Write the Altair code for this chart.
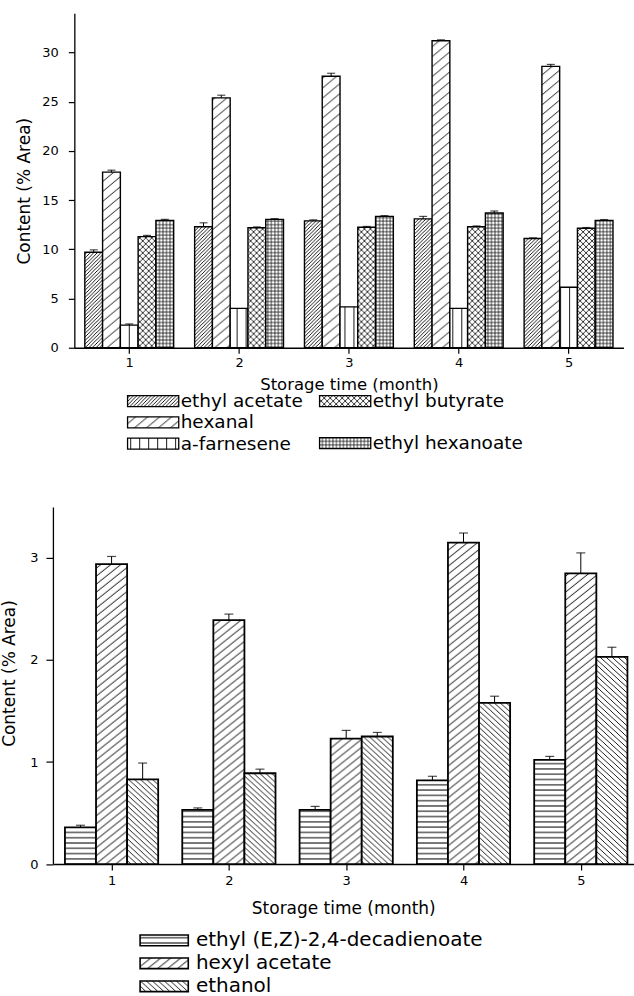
import altair as alt
import pandas as pd
import jinja2

# ---------------- data ----------------
months = [1, 2, 3, 4, 5]

top_compounds = ["ethyl acetate", "hexanal", "a-farnesene", "ethyl butyrate", "ethyl hexanoate"]
ethyl_acetate = [9.7, 12.3, 12.9, 13.1, 11.1]
ethyl_acetate_err = [0.25, 0.4, 0.1, 0.25, 0.07]
hexanal = [17.85, 25.4, 27.6, 31.2, 28.6]
hexanal_err = [0.2, 0.27, 0.3, 0.1, 0.2]
a_farnesene = [2.3, 4.0, 4.15, 4.0, 6.15]
a_farnesene_err = [0.12, 0.0, 0.0, 0.0, 0.0]
ethyl_butyrate = [11.3, 12.2, 12.25, 12.3, 12.15]
ethyl_butyrate_err = [0.12, 0.08, 0.08, 0.08, 0.07]
ethyl_hexanoate = [12.95, 13.05, 13.35, 13.7, 12.95]
ethyl_hexanoate_err = [0.1, 0.08, 0.08, 0.2, 0.08]

bottom_compounds = ["ethyl (E,Z)-2,4-decadienoate", "hexyl acetate", "ethanol"]
decadienoate = [0.36, 0.53, 0.53, 0.82, 1.02]
decadienoate_err = [0.02, 0.02, 0.035, 0.04, 0.035]
hexyl_acetate = [2.94, 2.39, 1.23, 3.15, 2.85]
hexyl_acetate_err = [0.075, 0.06, 0.08, 0.095, 0.2]
ethanol = [0.83, 0.89, 1.25, 1.58, 2.03]
ethanol_err = [0.16, 0.04, 0.04, 0.065, 0.095]

x_title = "Storage time (month)"
y_title = "Content (% Area)"

top_series = {
    "ethyl acetate": (ethyl_acetate, ethyl_acetate_err),
    "hexanal": (hexanal, hexanal_err),
    "a-farnesene": (a_farnesene, a_farnesene_err),
    "ethyl butyrate": (ethyl_butyrate, ethyl_butyrate_err),
    "ethyl hexanoate": (ethyl_hexanoate, ethyl_hexanoate_err),
}
bottom_series = {
    "ethyl (E,Z)-2,4-decadienoate": (decadienoate, decadienoate_err),
    "hexyl acetate": (hexyl_acetate, hexyl_acetate_err),
    "ethanol": (ethanol, ethanol_err),
}


def long_table(names, series):
    rows = []
    for k, name in enumerate(names):
        vals, errs = series[name]
        for m, v, e in zip(months, vals, errs):
            rows.append({"month": m, "compound": name, "idx": k,
                         "value": v, "err": e, "upper": v + e})
    return pd.DataFrame(rows)


top_df = long_table(top_compounds, top_series)
bottom_df = long_table(bottom_compounds, bottom_series)

# ---------------- hatch patterns (SVG defs) ----------------
def diag(w, h, rising):
    out = []
    for k in (-1, 0, 1):
        if rising:
            out.append(f"M{k*w - w},{2*h}L{k*w + 2*w},{-h}")
        else:
            out.append(f"M{k*w - w},{-h}L{k*w + 2*w},{2*h}")
    return "".join(out)


def pattern(pid, w, h, d, sw):
    return (f'<pattern id="{pid}" patternUnits="userSpaceOnUse" width="{w}" height="{h}">'
            f'<rect x="0" y="0" width="{w}" height="{h}" fill="white"/>'
            f'<path d="{d}" stroke="black" stroke-width="{sw}" fill="none"/></pattern>')


PATTERN_DEFS = (
    '<svg width="0" height="0" aria-hidden="true" '
    'style="position:absolute;width:0;height:0;overflow:hidden"><defs>'
    + pattern("pEA", 3.6, 3.6, diag(3.6, 3.6, True), 0.9)
    + pattern("pHX", 12, 10, diag(12, 10, True), 0.9)
    + pattern("pAF", 9, 9, "M4.5,-1V10", 0.9)
    + pattern("pEB", 6, 6, diag(6, 6, True) + diag(6, 6, False), 0.8)
    + pattern("pEH", 3.5, 3.5, "M-1,1.75H4.5M1.75,-1V4.5", 0.7)
    + pattern("pDE", 5, 5.3, "M-1,2.65H6", 1.0)
    + pattern("pHA", 10, 8, diag(10, 8, True), 1.0)
    + pattern("pET", 6, 5.5, diag(6, 5.5, False), 0.9)
    + '</defs></svg>'
)

top_fill = {
    "ethyl acetate": "url(#pEA)",
    "hexanal": "url(#pHX)",
    "a-farnesene": "url(#pAF)",
    "ethyl butyrate": "url(#pEB)",
    "ethyl hexanoate": "url(#pEH)",
}
bottom_fill = ["url(#pDE)", "url(#pHA)", "url(#pET)"]

FONT = "DejaVu Sans"

# ---------------- top panel ----------------
TOP_STEP = 17.8 / 110.0
top_base = alt.Chart(top_df).transform_calculate(
    xpos=f"datum.month + (datum.idx - 2) * {TOP_STEP}"
)

x_ticks = [1, 1.5, 2, 2.5, 3, 3.5, 4, 4.5, 5]
top_y_ticks = [i * 2.5 for i in range(14)]

top_x = alt.X(
    "xpos:Q",
    scale=alt.Scale(domain=[0.5, 5.5], range=[21.45, 571.45], nice=False, zero=False, padding=0),
    axis=alt.Axis(values=x_ticks, format="d",
                  labelExpr="datum.value % 1 === 0 ? datum.label : ''",
                  tickSize={"condition": {"test": "datum.value % 1 !== 0", "value": 3.5}, "value": 5.5},
                  labelPadding=3, titlePadding=7, titleFontSize=16.5, title=x_title,
                  labelFlush=False, labelOverlap=False),
)
top_y = alt.Y(
    "value:Q",
    scale=alt.Scale(domain=[0, 34], nice=False),
    axis=alt.Axis(values=top_y_ticks, format="d", offset=-21.45,
                  labelExpr="datum.value % 5 === 0 ? datum.label : ''",
                  tickSize={"condition": {"test": "datum.value % 5 !== 0", "value": 4}, "value": 6},
                  labelPadding=10, titlePadding=8, titleY=177.7, title=y_title,
                  labelOverlap=False),
)

group_a = ["ethyl acetate", "hexanal", "a-farnesene"]
group_b = ["ethyl butyrate", "ethyl hexanoate"]

TOP_SYM = "M-4.66,-1H4.66V1H-4.66Z"


def top_legend(x, y, row_pad):
    return alt.Legend(orient="none", legendX=x, legendY=y, title=None, direction="vertical",
                      symbolType=TOP_SYM, symbolSize=121, symbolStrokeColor="black",
                      symbolStrokeWidth=1.3, symbolOffset=16.4, labelOffset=18.3,
                      labelFont=FONT, labelFontSize=18.5, labelColor="black",
                      rowPadding=row_pad, padding=0, labelLimit=400)


bars_a = top_base.transform_filter(
    alt.FieldOneOfPredicate(field="compound", oneOf=group_a)
).mark_bar(width=17.8, stroke="black", strokeWidth=1.4).encode(
    x=top_x, y=top_y,
    fill=alt.Fill("compound:N",
                  scale=alt.Scale(domain=group_a, range=[top_fill[c] for c in group_a]),
                  legend=top_legend(74.75, 379.15, 2.3)),
)
bars_b = top_base.transform_filter(
    alt.FieldOneOfPredicate(field="compound", oneOf=group_b)
).mark_bar(width=17.8, stroke="black", strokeWidth=1.4).encode(
    x=top_x, y=top_y,
    fill=alt.Fill("compound:N",
                  scale=alt.Scale(domain=group_b, range=[top_fill[c] for c in group_b]),
                  legend=top_legend(267.05, 379.15, 23.1)),
)
top_err = top_base.transform_filter("datum.err > 0").mark_rule(
    color="black", strokeWidth=1).encode(x=top_x, y=top_y, y2="upper:Q")
top_cap = top_base.transform_filter("datum.err > 0").mark_tick(
    orient="horizontal", size=8, thickness=1.2, color="black").encode(
    x=top_x, y=alt.Y("upper:Q"))

top_panel = alt.layer(bars_a, bars_b, top_err, top_cap).resolve_scale(
    fill="independent").properties(width=571.45, height=335)

# ---------------- bottom panel ----------------
BOT_STEP = 31.13 / 117.5
bot_base = alt.Chart(bottom_df).transform_calculate(
    xpos=f"datum.month + (datum.idx - 1) * {BOT_STEP}"
)
bot_y_ticks = [i * 0.5 for i in range(8)]

bot_x = alt.X(
    "xpos:Q",
    scale=alt.Scale(domain=[0.5, 5.45], nice=False, zero=False, padding=0),
    axis=alt.Axis(values=x_ticks, format="d",
                  labelExpr="datum.value % 1 === 0 ? datum.label : ''",
                  tickSize={"condition": {"test": "datum.value % 1 !== 0", "value": 4}, "value": 6},
                  labelPadding=5, titlePadding=13, title=x_title,
                  labelFlush=False, labelOverlap=False),
)
bot_y = alt.Y(
    "value:Q",
    scale=alt.Scale(domain=[0, 3.5], nice=False),
    axis=alt.Axis(values=bot_y_ticks, format="d",
                  labelExpr="datum.value % 1 === 0 ? datum.label : ''",
                  tickSize={"condition": {"test": "datum.value % 1 !== 0", "value": 4}, "value": 7},
                  labelPadding=8, titlePadding=11, titleY=166.3, title=y_title,
                  labelOverlap=False),
)

BOT_SYM = "M-4.51,-1H4.51V1H-4.51Z"

bot_bars = bot_base.mark_bar(width=31.13, stroke="black", strokeWidth=1.8).encode(
    x=bot_x, y=bot_y,
    fill=alt.Fill("compound:N",
                  scale=alt.Scale(domain=bottom_compounds, range=bottom_fill),
                  legend=alt.Legend(orient="none", legendX=87.05, legendY=424.05, title=None,
                                    direction="vertical", symbolType=BOT_SYM, symbolSize=114.5,
                                    symbolStrokeColor="black", symbolStrokeWidth=1.6,
                                    symbolOffset=14.4, labelOffset=21.8,
                                    labelFont=FONT, labelFontSize=20, labelColor="black",
                                    rowPadding=3, padding=0, labelLimit=500)),
)
bot_err = bot_base.mark_rule(color="black", strokeWidth=1).encode(
    x=bot_x, y=bot_y, y2="upper:Q")
bot_cap = bot_base.mark_tick(orient="horizontal", size=9, thickness=1.2, color="black").encode(
    x=bot_x, y=alt.Y("upper:Q"))

bottom_panel = alt.layer(bot_bars, bot_err, bot_cap).properties(width=581.6, height=357.6)

# ---------------- compose ----------------
chart = alt.vconcat(top_panel, bottom_panel, spacing=52.5).resolve_scale(
    fill="independent"
).properties(
    padding={"left": 0, "top": 12.5, "right": 0, "bottom": 0},
    background="white",
).configure_view(strokeWidth=0).configure_axis(
    labelFont=FONT, labelFontSize=13, labelColor="black",
    titleFont=FONT, titleFontSize=17, titleFontWeight="normal", titleColor="black",
    domainColor="black", domainWidth=1.3, tickColor="black", tickWidth=1.2, grid=False,
)

# page template: the standard Altair page plus the SVG hatch-pattern definitions
try:
    from altair.utils.html import TEMPLATES as _TEMPLATES
    _base_template = _TEMPLATES["standard"]
except Exception:
    from altair.utils.html import HTML_TEMPLATE as _base_template


class PatternPage(jinja2.Template):
    def render(self, *args, **kwargs):
        page = _base_template.render(*args, **kwargs)
        if "<body>" in page:
            return page.replace("<body>", "<body>\n" + PATTERN_DEFS, 1)
        return PATTERN_DEFS + page


page_template = PatternPage("")

chart.save("out.html", embed_options={"renderer": "svg", "actions": False}, template=page_template)
